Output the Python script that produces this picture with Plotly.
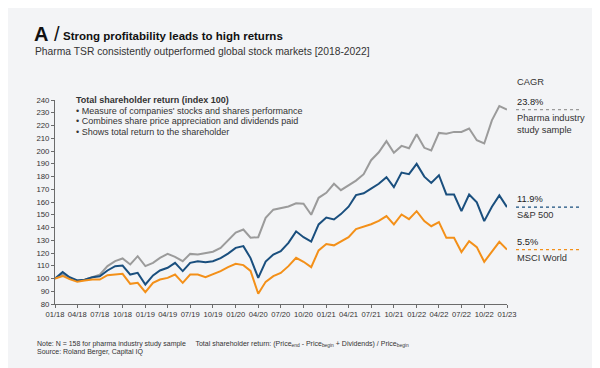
import pandas as pd
import plotly.graph_objects as go

# ---------------- data ----------------
months = pd.date_range("2018-01-01", periods=61, freq="MS")

pharma = [100, 103, 100, 98.5, 99, 101, 103, 109.7, 113.6, 115.7,
          111, 117.5, 109.7, 112.3, 116.2, 119.3, 117, 113.6, 119.3, 118.8,
          120.1, 121, 124, 130, 136, 138.4, 132, 132.4, 147.6, 154,
          155.4, 156.5, 159, 158.6, 150, 163.3, 167.2, 174.3, 169.3, 172.8,
          176.8, 181.8, 192.8, 199, 207.7, 198.6, 204, 202.2, 213.2, 202.5,
          200.4, 214.2, 213.5, 215, 215, 217.6, 208.4, 205.9, 224, 235.2,
          232.5]
sp500 = [100, 105, 101, 98.5, 99, 101, 101.8, 106.3, 109.7, 110.2,
         103.1, 104.4, 95.3, 102.4, 106.3, 108.4, 112.3, 105.8, 112.3, 113.6,
         112.8, 113.5, 116, 119.5, 124, 125.4, 116, 100.5, 113.3, 118.8,
         121.4, 128, 137, 132.4, 129, 142.4, 147.8, 146.3, 150.5, 156.3,
         165.4, 166.8, 170.5, 174.3, 179.5, 171.6, 183.1, 181.8, 189.9, 179.9,
         175, 181, 165.9, 165.9, 152.8, 165.9, 159.7, 145, 156.3, 165.2,
         156]
msci = [100, 102, 99.5, 97.4, 98.4, 99.2, 99.2, 102.6, 103.1, 103.7,
        95.8, 96.6, 89.3, 96.6, 99.2, 100.5, 103.1, 96.6, 103.1, 103.1,
        101, 103.1, 105.8, 108.9, 111.5, 110.5, 106, 88, 97.4, 101.8,
        104.4, 109.7, 116.2, 113.1, 108.9, 122, 127, 126, 129.3, 132.4,
        138.8, 140.6, 142.6, 145.2, 148.9, 142.4, 150.2, 146.5, 152.8, 145,
        141, 144.3, 131.9, 131.9, 120.8, 129.3, 124.6, 113.1, 121.1, 128.8,
        122.7]

series_names = ["Pharma industry<br>study sample", "S&P 500", "MSCI World"]
cagr_labels = ["23.8%", "11.9%", "5.5%"]
colors = ["#9b9b9b", "#1a4f7e", "#f39019"]

tick_labels = ["01/18", "04/18", "07/18", "10/18", "01/19", "04/19", "07/19",
               "10/19", "01/20", "04/20", "07/20", "10/20", "01/21", "04/21",
               "07/21", "10/21", "01/22", "04/22", "07/22", "10/22", "01/23"]
tick_vals = months[::3]
y_ticks = list(range(80, 241, 10))

# ---------------- layout geometry (pixels) ----------------
W, H = 600, 368
L, R, T, B = 47, 499, 92, 296
PW, PH = R - L, B - T


def px(x):
    return (x - L) / PW


def py(y):
    return (B - y) / PH


FONT = "Liberation Sans, Arial, sans-serif"
BG = "#f3f4f6"
TXT = "#333333"

fig = go.Figure()
for vals, name, col in zip([pharma, sp500, msci], series_names, colors):
    fig.add_trace(go.Scatter(x=months, y=vals, mode="lines", name=name,
                             line=dict(color=col, width=2), showlegend=False,
                             hoverinfo="skip"))

fig.update_layout(
    width=W, height=H,
    margin=dict(l=L, r=W - R, t=T, b=H - B, pad=0),
    paper_bgcolor=BG, plot_bgcolor=BG,
    font=dict(family=FONT, color=TXT, size=8),
    xaxis=dict(range=[months[0], months[-1]], tickvals=tick_vals,
               ticktext=tick_labels, tickangle=0, showgrid=False,
               zeroline=False, showline=True, linecolor="#6b6b6b",
               linewidth=1, ticks="outside", ticklen=3, tickcolor="#6b6b6b",
               tickfont=dict(size=7.6, color=TXT)),
    yaxis=dict(range=[80, 240], tickvals=y_ticks, showgrid=False,
               zeroline=False, showline=True, linecolor="#6b6b6b",
               linewidth=1, ticks="outside", ticklen=3, tickcolor="#6b6b6b",
               tickfont=dict(size=7.8, color=TXT)),
)

ann = []


def add_text(text, x, y, size, color=TXT, xanchor="left", yanchor="middle"):
    ann.append(dict(text=text, x=px(x), y=py(y), xref="paper", yref="paper",
                    xanchor=xanchor, yanchor=yanchor, showarrow=False,
                    font=dict(size=size, color=color, family=FONT),
                    align="left"))


# title block
add_text("<b>A</b> /", 24, 26, 20, "#111111")
add_text("<b>Strong profitability leads to high returns</b>", 52.5, 28, 11.5, "#111111")
add_text("Pharma TSR consistently outperformed global stock markets [2018-2022]",
         25, 44, 10.3, "#333333")

# explanation block
add_text("<b>Total shareholder return (index 100)</b>", 66, 92, 9)
add_text("• Measure of companies' stocks and shares performance", 66, 103, 9)
add_text("• Combines share price appreciation and dividends paid", 66, 113, 9)
add_text("• Shows total return to the shareholder", 66, 123.5, 9)

# right side labels
add_text("CAGR", 507, 74, 9.3)
shapes = []
for vals, name, col, lab in zip([pharma, sp500, msci], series_names, colors, cagr_labels):
    last = vals[-1]
    shapes.append(dict(type="line", xref="paper", yref="y",
                       x0=px(508), x1=px(572), y0=last, y1=last,
                       line=dict(color=col, width=1.2, dash="dot")))
    ann.append(dict(text=lab, x=px(507), y=last, xref="paper", yref="y",
                    xanchor="left", yanchor="bottom", showarrow=False,
                    yshift=1, font=dict(size=9.3, color="#222222", family=FONT)))
    ann.append(dict(text=name, x=px(507), y=last, xref="paper", yref="y",
                    xanchor="left", yanchor="top", showarrow=False,
                    yshift=-1, align="left",
                    font=dict(size=9.3, color=TXT, family=FONT)))

# footer
add_text("Note: N = 158 for pharma industry study sample     Total shareholder return: "
         "(Price<sub>end</sub> - Price<sub>begin</sub> + Dividends) / Price<sub>begin</sub>",
         27, 336, 7)
add_text("Source: Roland Berger, Capital IQ", 27, 343.5, 7)

fig.update_layout(annotations=ann, shapes=shapes)
fig.write_html("out.html")
